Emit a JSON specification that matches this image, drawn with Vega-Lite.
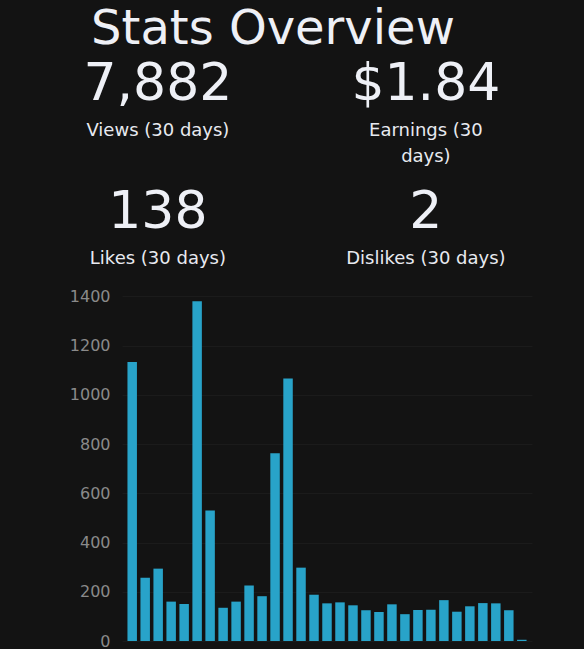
{
  "$schema": "https://vega.github.io/schema/vega-lite/v6.json",
  "width": 584,
  "height": 649,
  "autosize": {"type": "fit", "contains": "padding"},
  "padding": {"left": 0, "top": 6, "right": 52, "bottom": 0},
  "background": "#131313",
  "title": {
    "text": "Stats Overview",
    "font": "DejaVu Sans",
    "fontSize": 48,
    "fontWeight": "normal",
    "color": "#eef0f6",
    "anchor": "middle",
    "frame": "bounds",
    "offset": 0,
    "dx": 7
  },
  "config": {"view": {"stroke": null}},
  "datasets": {
    "views": [
      {"day": 1, "views": 1134}, {"day": 2, "views": 257}, {"day": 3, "views": 294},
      {"day": 4, "views": 160}, {"day": 5, "views": 150}, {"day": 6, "views": 1380},
      {"day": 7, "views": 530}, {"day": 8, "views": 135}, {"day": 9, "views": 160},
      {"day": 10, "views": 225}, {"day": 11, "views": 182}, {"day": 12, "views": 763},
      {"day": 13, "views": 1067}, {"day": 14, "views": 298}, {"day": 15, "views": 188},
      {"day": 16, "views": 153}, {"day": 17, "views": 157}, {"day": 18, "views": 145},
      {"day": 19, "views": 125}, {"day": 20, "views": 118}, {"day": 21, "views": 149},
      {"day": 22, "views": 109}, {"day": 23, "views": 126}, {"day": 24, "views": 127},
      {"day": 25, "views": 166}, {"day": 26, "views": 119}, {"day": 27, "views": 141},
      {"day": 28, "views": 154}, {"day": 29, "views": 153}, {"day": 30, "views": 125},
      {"day": 31, "views": 5}
    ],
    "stats": [
      {"stat": "Views", "value": "7,882", "label": "Views (30 days)", "col": 1, "row": 1},
      {"stat": "Earnings", "value": "$1.84", "label": "Earnings (30\ndays)", "col": 2, "row": 1},
      {"stat": "Likes", "value": "138", "label": "Likes (30 days)", "col": 1, "row": 2},
      {"stat": "Dislikes", "value": "2", "label": "Dislikes (30 days)", "col": 2, "row": 2}
    ]
  },
  "layer": [
    {
      "data": {"name": "views"},
      "mark": {"type": "bar", "color": "#28a3c9"},
      "encoding": {
        "x": {
          "field": "day",
          "type": "ordinal",
          "scale": {"paddingInner": 0.27, "paddingOuter": 0.42},
          "axis": null
        },
        "y": {
          "field": "views",
          "type": "quantitative",
          "scale": {"domain": [0, 2385], "nice": false},
          "axis": {
            "title": null,
            "values": [0, 200, 400, 600, 800, 1000, 1200, 1400],
            "format": "d",
            "domain": false,
            "ticks": false,
            "grid": true,
            "gridColor": "#1b1b1b",
            "gridWidth": 1,
            "labelColor": "#8a8a8a",
            "labelFont": "DejaVu Sans",
            "labelFontSize": 16,
            "labelPadding": 12,
            "minExtent": 122,
            "maxExtent": 122
          }
        }
      }
    },
    {
      "data": {"name": "stats"},
      "encoding": {
        "x": {
          "field": "col",
          "type": "quantitative",
          "scale": {"domain": [0.866, 2.396], "nice": false, "zero": false},
          "axis": null
        },
        "y": {
          "field": "row",
          "type": "quantitative",
          "scale": {"domain": [0.6406, 5.219], "nice": false, "zero": false, "reverse": true},
          "axis": null
        }
      },
      "layer": [
        {
          "mark": {
            "type": "text",
            "font": "DejaVu Sans",
            "fontSize": 52,
            "color": "#eef0f6",
            "align": "center",
            "baseline": "alphabetic"
          },
          "encoding": {"text": {"field": "value", "type": "nominal"}}
        },
        {
          "mark": {
            "type": "text",
            "font": "DejaVu Sans",
            "fontSize": 18,
            "color": "#e8eaf0",
            "align": "center",
            "baseline": "alphabetic",
            "lineBreak": "\n",
            "lineHeight": 26,
            "dy": 36
          },
          "encoding": {"text": {"field": "label", "type": "nominal"}}
        }
      ]
    }
  ],
  "resolve": {"scale": {"x": "independent", "y": "independent"}}
}
